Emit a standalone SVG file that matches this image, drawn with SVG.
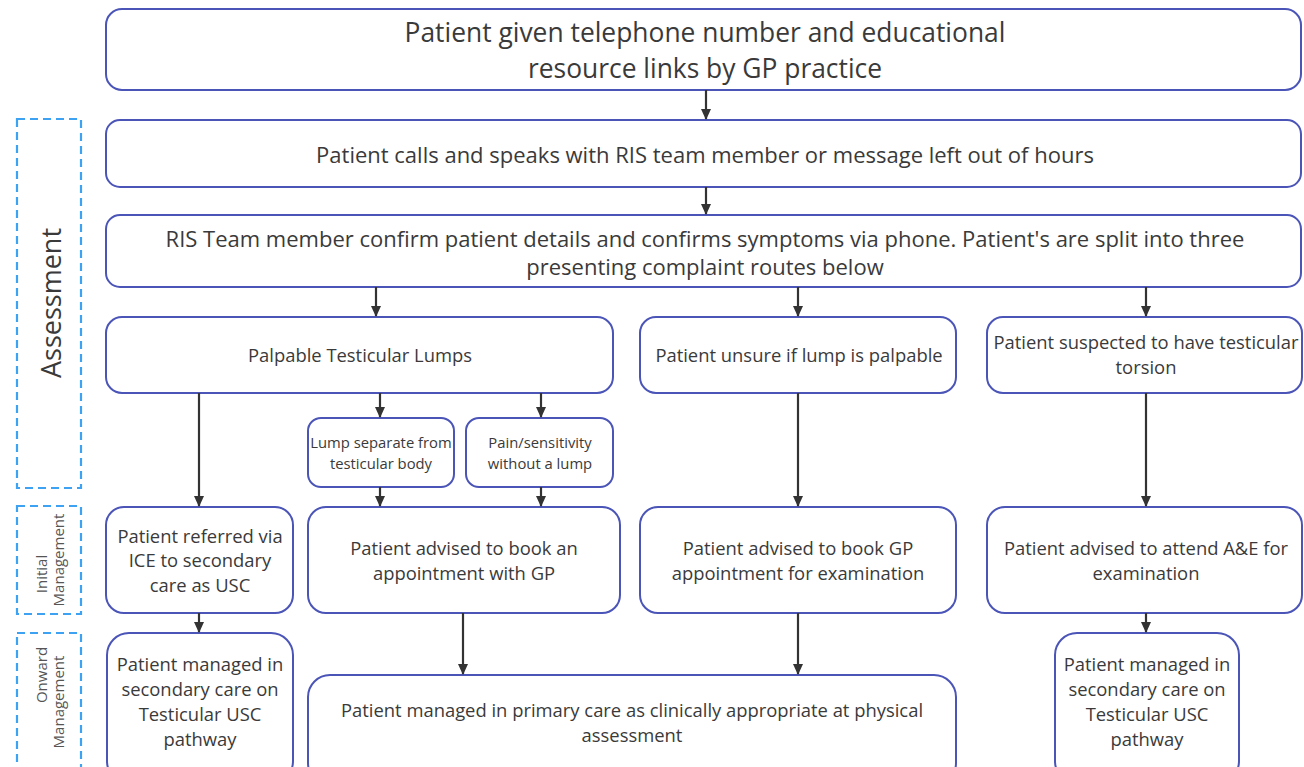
<svg xmlns="http://www.w3.org/2000/svg" width="1304" height="767" viewBox="0 0 1304 767">
<style>
.box{fill:#fff;stroke:#4b55b8;stroke-width:2}
.lane{fill:none;stroke:#3ea2f2;stroke-width:2.2;stroke-dasharray:8 5}
text{font-family:"Open Sans","Noto Sans","Liberation Sans",sans-serif;fill:#3a3a3a;text-anchor:middle;font-size:18.4px}
.lt{fill:#555;font-size:15px}
.lane-title{font-size:27px}
.big{font-size:26.4px}
.mid{font-size:22px}
.sm{font-size:14.8px}
.con line{stroke:#333;stroke-width:2.2;marker-end:url(#ah)}
</style>
<defs>
<marker id="ah" markerUnits="userSpaceOnUse" markerWidth="11" markerHeight="10" refX="10" refY="5" orient="auto">
<path d="M0,0 L11,5 L0,10 z" fill="#333"/>
</marker>
</defs>
<rect width="1304" height="767" fill="#fff"/>

<g id="lane-assessment"><rect class="lane" x="17" y="119" width="64" height="369"/><text class="lane-title" transform="translate(0,303) rotate(-90)" x="0" y="61">Assessment</text></g>
<g id="lane-initial"><rect class="lane" x="17" y="506" width="64" height="108"/><text class="lt" transform="translate(0,574) rotate(-90)" x="0" y="47">Initial</text><text class="lt" transform="translate(0,560) rotate(-90)" x="0" y="64">Management</text></g>
<g id="lane-onward"><rect class="lane" x="17" y="633" width="64" height="150"/><text class="lt" transform="translate(0,675) rotate(-90)" x="0" y="47">Onward</text><text class="lt" transform="translate(0,702) rotate(-90)" x="0" y="64">Management</text></g>

<g id="n1"><rect class="box" x="106" y="9" width="1195" height="81" rx="16"/><text class="big" x="705" y="42">Patient given telephone number and educational</text><text class="big" x="705" y="78">resource links by GP practice</text></g>
<g id="n2"><rect class="box" x="106" y="120" width="1195" height="67" rx="14"/><text class="mid" x="705" y="163">Patient calls and speaks with RIS team member or message left out of hours</text></g>
<g id="n3"><rect class="box" x="106" y="215" width="1195" height="72" rx="14"/><text class="mid" x="705" y="247">RIS Team member confirm patient details and confirms symptoms via phone. Patient's are split into three</text><text class="mid" x="705" y="275">presenting complaint routes below</text></g>

<g id="n4"><rect class="box" x="106" y="317" width="507" height="76" rx="16"/><text x="360" y="362">Palpable Testicular Lumps</text></g>
<g id="n5"><rect class="box" x="640" y="317" width="316" height="76" rx="16"/><text x="799" y="362">Patient unsure if lump is palpable</text></g>
<g id="n6"><rect class="box" x="987" y="317" width="315" height="76" rx="16"/><text x="1146" y="349">Patient suspected to have testicular</text><text x="1146" y="374">torsion</text></g>

<g id="n7"><rect class="box" x="308" y="418" width="146" height="69" rx="13"/><text class="sm" x="381" y="448">Lump separate from</text><text class="sm" x="381" y="469">testicular body</text></g>
<g id="n8"><rect class="box" x="466" y="418" width="147" height="69" rx="13"/><text class="sm" x="540" y="448">Pain/sensitivity</text><text class="sm" x="540" y="469">without a lump</text></g>

<g id="n9"><rect class="box" x="106" y="507" width="187" height="106" rx="18"/><text x="200" y="543">Patient referred via</text><text x="200" y="567">ICE to secondary</text><text x="200" y="592">care as USC</text></g>
<g id="n10"><rect class="box" x="308" y="507" width="312" height="106" rx="18"/><text x="464" y="555">Patient advised to book an</text><text x="464" y="580">appointment with GP</text></g>
<g id="n11"><rect class="box" x="640" y="507" width="316" height="106" rx="18"/><text x="798" y="555">Patient advised to book GP</text><text x="798" y="580">appointment for examination</text></g>
<g id="n12"><rect class="box" x="987" y="507" width="315" height="106" rx="18"/><text x="1146" y="555">Patient advised to attend A&amp;E for</text><text x="1146" y="580">examination</text></g>

<g id="n13"><rect class="box" x="107" y="633" width="186" height="150" rx="22"/><text x="200" y="671">Patient managed in</text><text x="200" y="696">secondary care on</text><text x="200" y="721">Testicular USC</text><text x="200" y="746">pathway</text></g>
<g id="n14"><rect class="box" x="308" y="675" width="648" height="110" rx="22"/><text x="632" y="717">Patient managed in primary care as clinically appropriate at physical</text><text x="632" y="742">assessment</text></g>
<g id="n15"><rect class="box" x="1055" y="633" width="184" height="150" rx="22"/><text x="1147" y="671">Patient managed in</text><text x="1147" y="696">secondary care on</text><text x="1147" y="721">Testicular USC</text><text x="1147" y="746">pathway</text></g>

<g id="connectors" class="con">
<line x1="706" y1="90" x2="706" y2="119"/>
<line x1="706" y1="187" x2="706" y2="214"/>
<line x1="376" y1="287" x2="376" y2="316"/>
<line x1="798" y1="287" x2="798" y2="316"/>
<line x1="1146" y1="287" x2="1146" y2="316"/>
<line x1="199" y1="393" x2="199" y2="506"/>
<line x1="380" y1="393" x2="380" y2="417"/>
<line x1="541" y1="393" x2="541" y2="417"/>
<line x1="380" y1="487" x2="380" y2="506"/>
<line x1="541" y1="487" x2="541" y2="506"/>
<line x1="798" y1="393" x2="798" y2="506"/>
<line x1="1146" y1="393" x2="1146" y2="506"/>
<line x1="199" y1="613" x2="199" y2="632"/>
<line x1="463" y1="613" x2="463" y2="674"/>
<line x1="798" y1="613" x2="798" y2="674"/>
<line x1="1146" y1="613" x2="1146" y2="632"/>
</g>
</svg>
